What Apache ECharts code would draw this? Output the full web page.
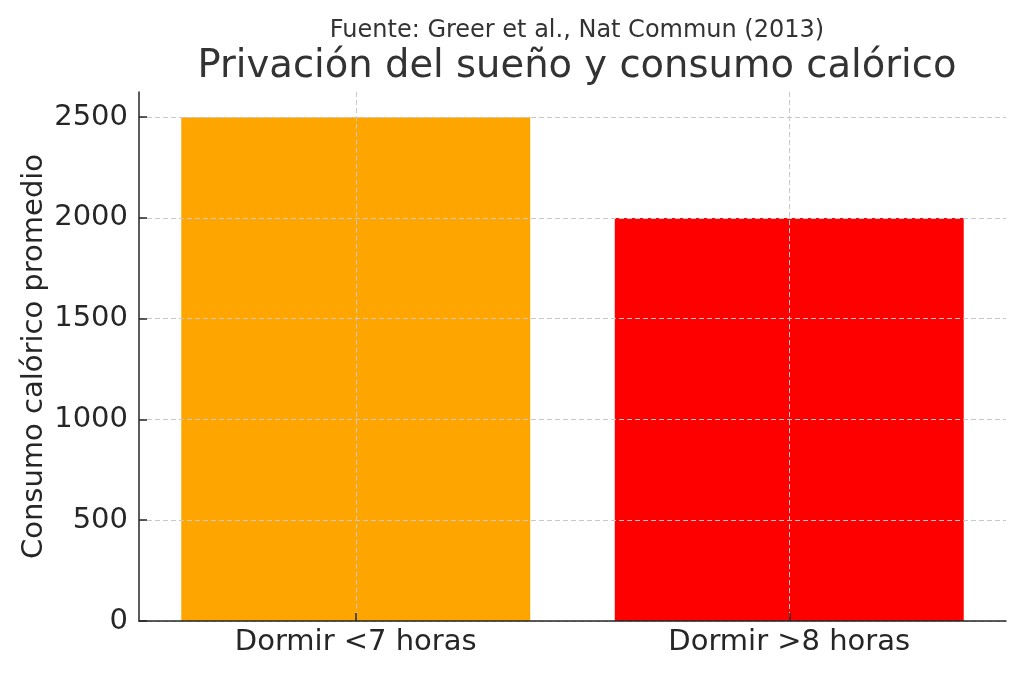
<!DOCTYPE html>
<html>
<head>
<meta charset="utf-8">
<script src="https://cdn.jsdelivr.net/npm/echarts@6/dist/echarts.min.js"></script>
<style>
  html, body { margin: 0; padding: 0; background: #fff; }
  #main { width: 1024px; height: 676px; }
</style>
</head>
<body>
<div id="main"></div>
<script>
// datos
var categorias = ['Dormir <7 horas', 'Dormir >8 horas'];
var consumo = [2500, 2000];
var colores = ['#ffa500', '#ff0000'];
var yTicks = [0, 500, 1000, 1500, 2000, 2500];

var myChart = echarts.init(document.getElementById('main'));
var fuente = 'DejaVu Sans';

myChart.setOption({
    animation: false,
    backgroundColor: '#fff',
    title: [{
        text: 'Fuente: Greer et al., Nat Commun (2013)',
        left: 572, top: 14, textAlign: 'center',
        textStyle: { fontFamily: fuente, fontSize: 24, fontWeight: 'normal', color: '#333' }
    }, {
        text: 'Privación del sueño y consumo calórico',
        left: 572, top: 42, textAlign: 'center',
        textStyle: { fontFamily: fuente, fontSize: 38.5, fontWeight: 'normal', color: '#333' }
    }],
    grid: { left: 139, right: 18, top: 92, bottom: 55 },
    xAxis: {
        type: 'category',
        data: categorias,
        z: 5,
        axisLine: { lineStyle: { color: '#262626', width: 1.5 } },
        axisTick: { show: true, alignWithLabel: true, inside: true, length: 8, lineStyle: { color: '#262626', width: 1.5 } },
        axisLabel: { fontFamily: fuente, fontSize: 29, color: '#262626', margin: 7 },
        splitLine: { show: true, alignWithLabel: true, lineStyle: { color: '#c8c8c8', type: [5, 3], width: 1 } }
    },
    yAxis: {
        type: 'value',
        min: 0, max: 2625,
        z: 5,
        name: 'Consumo calórico promedio',
        nameLocation: 'middle',
        nameMoveOverlap: false,
        nameGap: 90,
        nameTextStyle: { fontFamily: fuente, fontSize: 29, color: '#262626' },
        axisLine: { show: true, lineStyle: { color: '#262626', width: 1.5 } },
        axisTick: { show: true, inside: true, length: 8, customValues: yTicks, lineStyle: { color: '#262626', width: 1.5 } },
        axisLabel: {
            fontFamily: fuente, fontSize: 29, color: '#262626', margin: 11, customValues: yTicks,
            formatter: function (v) { return String(v); }
        },
        splitLine: { show: true, lineStyle: { color: '#c8c8c8', type: [5, 3], width: 1 } }
    },
    series: [{
        type: 'bar',
        barWidth: '80.5%',
        data: consumo.map(function (v, i) {
            return { value: v, itemStyle: { color: colores[i] } };
        })
    }]
});
</script>
</body>
</html>
